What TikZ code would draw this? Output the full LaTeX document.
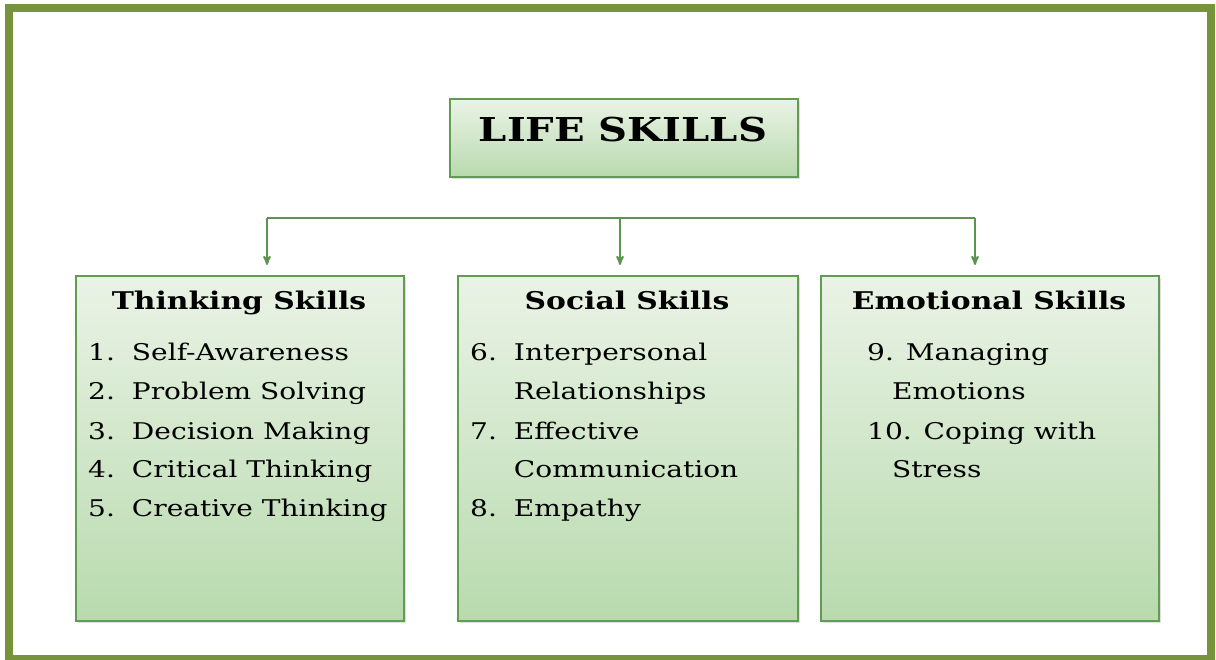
\documentclass[tikz,border=0pt]{standalone}
\usepackage{fontspec}
\setmainfont{DejaVu Serif}[FakeStretch=1.22]
\usepackage{xcolor}
\usepackage{tikz}
\usetikzlibrary{arrows,shadows}

\definecolor{framegreen}{HTML}{77933C}
\definecolor{boxedge}{HTML}{639A54}
\definecolor{boxtop}{HTML}{EAF3E6}
\definecolor{boxbottom}{HTML}{B8DAAE}
\definecolor{linkgreen}{HTML}{5E9450}

\begin{document}
\begin{tikzpicture}[x=1pt,y=-1pt,>=stealth',
    skillbox/.style={draw=boxedge,line width=1.8pt,top color=boxtop,bottom color=boxbottom,
      drop shadow={shadow xshift=2pt,shadow yshift=-2pt,opacity=.25},
      anchor=north west,inner sep=0pt},
    heading/.style={font=\bfseries\fontsize{24.4}{28}\selectfont,anchor=base},
    items/.style={font=\fontsize{23}{39}\selectfont,anchor=base west,inner sep=0pt},
    link/.style={draw=linkgreen,line width=2pt}]
  \useasboundingbox (0,0) rectangle (1216,660);
  % outer frame
  \draw[framegreen,line width=8pt] (8.7,8.2) rectangle (1211,658.5);

  \node[skillbox,minimum width=348pt,minimum height=78pt] (life) at (449,98) {};
  \node[font=\bfseries\fontsize{32.9}{38}\selectfont,anchor=base] (lifetext) at (623,142) {LIFE SKILLS};

  \node[skillbox,minimum width=328pt,minimum height=345pt] (thinking) at (75,275) {};
  \node[skillbox,minimum width=340pt,minimum height=345pt] (social)   at (457,275) {};
  \node[skillbox,minimum width=338pt,minimum height=345pt] (emotional) at (820,275) {};

  % connectors
  \coordinate (tl) at (267,218);
  \coordinate (tm) at (620,218);
  \coordinate (tr) at (975,218);
  \draw[link] (tl) -- (tr);
  \draw[link,->,shorten >=10pt] (tl) -- (tl |- thinking.north);
  \draw[link,->,shorten >=10pt] (tm) -- (tm |- social.north);
  \draw[link,->,shorten >=10pt] (tr) -- (tr |- emotional.north);

  % headings
  \node[heading] (thinkhead) at (239,310) {Thinking Skills};
  \node[heading] (socialhead) at (627,310) {Social Skills};
  \node[heading] (emohead) at (989,310) {Emotional Skills};

  % lists
  \node[items] (thinklist) at (88,361) {\begin{tabular}[t]{@{}l@{\hspace{17pt}}l@{}}
    1. & Self-Awareness\\
    2. & Problem Solving\\
    3. & Decision Making\\
    4. & Critical Thinking\\
    5. & Creative Thinking
  \end{tabular}};
  \node[items] (sociallist) at (470,361) {\begin{tabular}[t]{@{}l@{\hspace{17pt}}l@{}}
    6. & Interpersonal\\
       & Relationships\\
    7. & Effective\\
       & Communication\\
    8. & Empathy
  \end{tabular}};
  \node[items] (emolist) at (867,361) {\begin{tabular}[t]{@{}l@{}}
    9. Managing\\
    \hspace{25pt}Emotions\\
    10. Coping with\\
    \hspace{25pt}Stress
  \end{tabular}};
\end{tikzpicture}
\end{document}
